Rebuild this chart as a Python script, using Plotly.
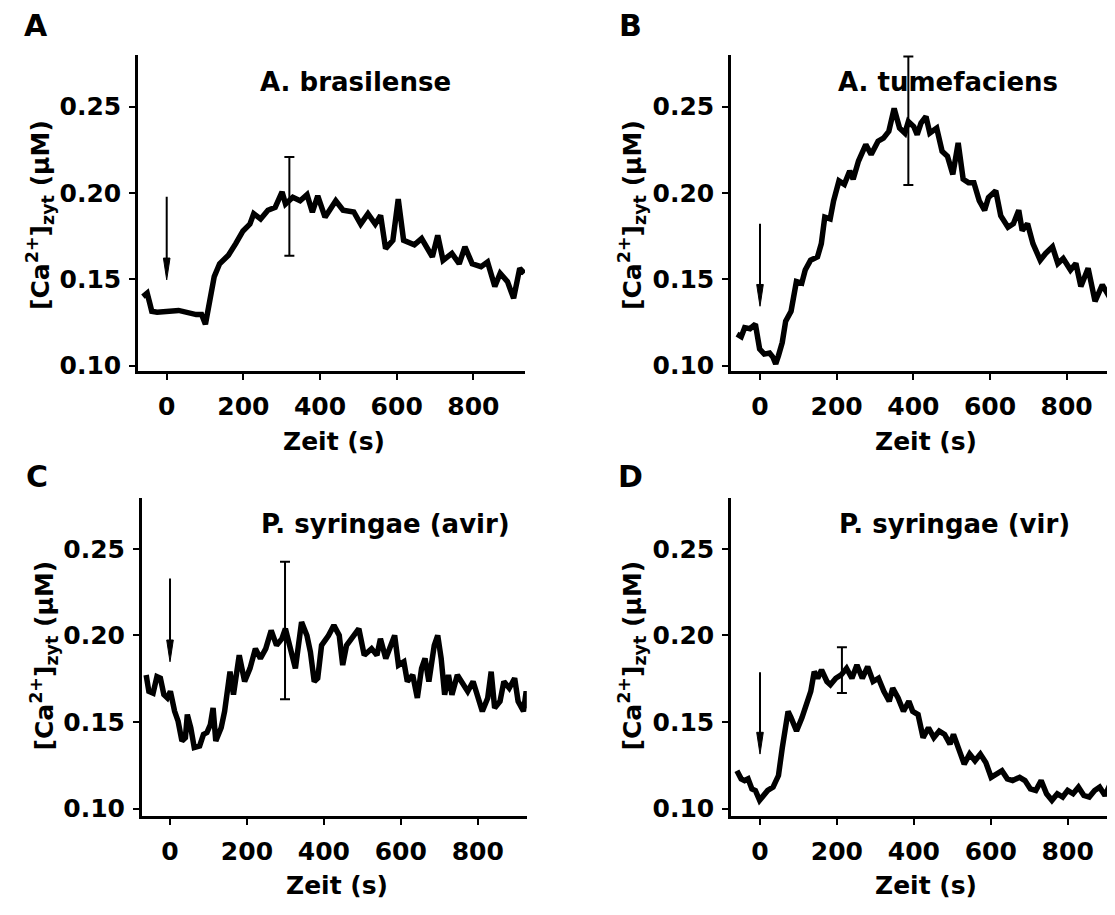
import plotly.graph_objects as go

# The page body has an 8 px margin, so the figure is made 8 px smaller and
# every screen position below is shifted by that offset.
SCREEN_W, SCREEN_H = 1115, 915
OFF = 8
W, H = SCREEN_W - OFF, SCREEN_H - OFF

# ---------------- data ----------------
panel_letters = ["A", "B", "C", "D"]
panel_titles = ["A. brasilense", "A. tumefaciens", "P. syringae (avir)", "P. syringae (vir)"]
x_tick_vals = [0, 200, 400, 600, 800]
y_tick_vals = [0.10, 0.15, 0.20, 0.25]
x_title = "Zeit (s)"
y_title = "[Ca<sup>2+</sup>]<sub>zyt</sub> (µM)"

a_time = [-62, -51, -44, -39, -25, 31, 77, 91, 101, 108, 115, 124, 138, 161, 180, 199, 217, 227,
          245, 264, 283, 301, 310, 329, 348, 366, 380, 394, 413, 441, 460, 488, 506, 525, 544, 558,
          571, 590, 604, 618, 646, 665, 693, 707, 721, 744, 763, 778, 797, 820, 837, 856, 870, 889,
          905, 921, 933]
a_ca = [0.140, 0.142, 0.136, 0.1315, 0.131, 0.132, 0.1296, 0.1296, 0.124, 0.132, 0.144, 0.1516,
        0.159, 0.164, 0.1707, 0.178, 0.182, 0.188, 0.185, 0.190, 0.1917, 0.2006, 0.1936, 0.1975,
        0.1955, 0.199, 0.1889, 0.1984, 0.186, 0.1955, 0.190, 0.189, 0.182, 0.188, 0.182, 0.187,
        0.1678, 0.1726, 0.1965, 0.1726, 0.170, 0.1736, 0.163, 0.1755, 0.161, 0.165, 0.159, 0.1688,
        0.159, 0.1573, 0.160, 0.1459, 0.1535, 0.1487, 0.139, 0.1564, 0.1535]

b_time = [-60, -49, -40, -26, -12, -7, -1, 11, 25, 34, 41, 48, 58, 67, 81, 95, 109, 118, 132, 150,
          160, 169, 183, 192, 206, 220, 234, 243, 257, 276, 290, 308, 322, 336, 350, 364, 378, 387,
          401, 410, 420, 433, 443, 461, 475, 489, 503, 517, 530, 544, 558, 572, 586, 596, 615, 628,
          647, 661, 675, 684, 698, 712, 731, 745, 763, 777, 791, 810, 824, 837, 856, 874, 893, 911,
          923]
b_ca = [0.1182, 0.1168, 0.122, 0.1214, 0.124, 0.119, 0.1096, 0.1067, 0.1073, 0.1048, 0.101, 0.1057,
        0.1134, 0.1258, 0.1315, 0.1487, 0.1478, 0.1554, 0.1611, 0.163, 0.1707, 0.186, 0.185, 0.1955,
        0.207, 0.205, 0.2128, 0.208, 0.2185, 0.228, 0.2223, 0.230, 0.2318, 0.2357, 0.2490, 0.2376,
        0.2347, 0.2414, 0.2385, 0.2338, 0.2405, 0.2443, 0.2347, 0.2376, 0.2242, 0.2213, 0.2108,
        0.229, 0.208, 0.206, 0.206, 0.1955, 0.190, 0.1974, 0.2013, 0.1869, 0.1802, 0.1822, 0.190,
        0.1783, 0.1822, 0.1707, 0.1611, 0.165, 0.1688, 0.1592, 0.1621, 0.1554, 0.1592, 0.1459,
        0.1564, 0.1373, 0.1468, 0.140, 0.1325]

c_time = [-62, -55, -44, -34, -25, -16, -7, 1, 12, 21, 31, 40, 45, 54, 63, 77, 87, 96, 105, 112,
          119, 133, 142, 152, 156, 165, 180, 194, 208, 222, 235, 249, 263, 277, 291, 300, 314, 326,
          342, 356, 365, 375, 384, 394, 412, 426, 440, 449, 459, 477, 491, 505, 524, 538, 547, 561,
          575, 584, 594, 608, 617, 631, 643, 654, 663, 673, 687, 696, 705, 714, 724, 733, 747, 761,
          774, 788, 802, 812, 826, 835, 844, 858, 868, 882, 896, 905, 919, 926, 933]
c_ca = [0.1772, 0.1677, 0.1667, 0.1762, 0.1753, 0.1658, 0.1639, 0.1677, 0.1562, 0.1505, 0.1391,
        0.141, 0.1543, 0.1467, 0.1353, 0.1362, 0.1429, 0.1439, 0.1486, 0.1581, 0.1391, 0.1467,
        0.1562, 0.1734, 0.1791, 0.1658, 0.1886, 0.1734, 0.181, 0.1924, 0.1867, 0.1924, 0.2029,
        0.1943, 0.1981, 0.2039, 0.1924, 0.181, 0.2077, 0.200, 0.1905, 0.1734, 0.1753, 0.1943, 0.200,
        0.2058, 0.200, 0.1829, 0.1943, 0.200, 0.2039, 0.1886, 0.1924, 0.1886, 0.1981, 0.1867,
        0.1962, 0.200, 0.1829, 0.1848, 0.1734, 0.1772, 0.1639, 0.181, 0.1867, 0.1734, 0.1943, 0.200,
        0.1867, 0.1658, 0.1772, 0.1658, 0.1772, 0.1715, 0.1677, 0.1734, 0.162, 0.1562, 0.1639,
        0.1791, 0.1581, 0.162, 0.1734, 0.1696, 0.1753, 0.162, 0.1562, 0.1677, 0.1581]

d_time = [-60, -49, -40, -31, -21, -12, -1, 11, 20, 34, 48, 58, 67, 73, 81, 95, 109, 122, 132, 141,
          150, 160, 174, 183, 197, 211, 225, 239, 252, 266, 280, 294, 308, 322, 336, 345, 359, 373,
          387, 397, 411, 424, 438, 452, 466, 480, 494, 503, 517, 531, 545, 559, 573, 587, 601, 615,
          629, 643, 657, 675, 689, 703, 717, 731, 745, 759, 773, 787, 800, 814, 828, 842, 856, 870,
          883, 897, 911, 923]
d_ca = [0.1219, 0.1172, 0.1162, 0.1172, 0.1114, 0.1105, 0.1048, 0.1076, 0.1105, 0.1124, 0.1191,
        0.1353, 0.1505, 0.1562, 0.1524, 0.1448, 0.1524, 0.162, 0.1677, 0.1791, 0.1753, 0.1801,
        0.1734, 0.1715, 0.1753, 0.1772, 0.181, 0.1753, 0.1829, 0.1753, 0.182, 0.1734, 0.1753,
        0.1677, 0.162, 0.1696, 0.1639, 0.1562, 0.162, 0.1562, 0.1543, 0.141, 0.1467, 0.141, 0.1448,
        0.1429, 0.1372, 0.1429, 0.1353, 0.1257, 0.1315, 0.1276, 0.1315, 0.1267, 0.1181, 0.120,
        0.1219, 0.1172, 0.1162, 0.1181, 0.1162, 0.1114, 0.1105, 0.1162, 0.1086, 0.1048, 0.1086,
        0.1067, 0.1105, 0.1086, 0.1124, 0.1076, 0.1067, 0.1105, 0.1124, 0.1076, 0.1143, 0.1086]

# error bars (time, mean, half-range)
err_time = [320, 387, 299, 213]
err_mean = [0.19225, 0.2418, 0.20285, 0.17995]
err_half = [0.02865, 0.0372, 0.03975, 0.01325]

# stimulus arrows (time, top value, tip value)
arrow_time = [0, 0, 0, 0]
arrow_top = [0.1978, 0.1822, 0.2329, 0.1787]
arrow_tip = [0.1497, 0.1344, 0.1848, 0.1315]

series_time = [a_time, b_time, c_time, d_time]
series_ca = [a_ca, b_ca, c_ca, d_ca]

# ---------------- layout geometry (screen pixels) ----------------
x_dom_px = [(138, 525), (731, 1115), (141.7, 526.8), (731, 1115)]
y_dom_px = [(55, 375), (55, 375), (502.7, 824), (502.7, 824)]
x_rng = [(-74.9, 934.7), (-75.65, 926.1), (-73.6, 927.6), (-75.4, 923.0)]
y_rng = [(0.0967, 0.2802), (0.0967, 0.2802), (0.0958, 0.2795), (0.0958, 0.2795)]

FONT = "DejaVu Sans"


def px_x(v):
    return min(1.0, max(0.0, (v - OFF) / W))


def px_y(v):
    return min(1.0, max(0.0, 1 - (v - OFF) / H))


fig = go.Figure()

for i in range(4):
    n = "" if i == 0 else str(i + 1)
    xa, ya = "x" + n, "y" + n
    fig.add_trace(go.Scatter(x=series_time[i], y=series_ca[i], mode="lines",
                             line=dict(color="black", width=5.5), xaxis=xa, yaxis=ya,
                             showlegend=False, hoverinfo="skip"))
    fig.add_trace(go.Scatter(x=[err_time[i]], y=[err_mean[i]], mode="markers",
                             marker=dict(size=1, color="black"),
                             error_y=dict(type="data", array=[err_half[i]], thickness=2,
                                          width=5, color="black"),
                             xaxis=xa, yaxis=ya, showlegend=False, hoverinfo="skip"))
    # arrow shaft + narrow head, sized in pixels and converted to data units
    xpx = (x_dom_px[i][1] - x_dom_px[i][0]) / (x_rng[i][1] - x_rng[i][0])
    ypx = (y_dom_px[i][1] - y_dom_px[i][0]) / (y_rng[i][1] - y_rng[i][0])
    hw = 3.3 / xpx
    hl = 22 / ypx
    fig.add_trace(go.Scatter(x=[arrow_time[i], arrow_time[i]],
                             y=[arrow_top[i], arrow_tip[i] + hl * 0.5], mode="lines",
                             line=dict(color="black", width=2), xaxis=xa, yaxis=ya,
                             showlegend=False, hoverinfo="skip"))
    fig.add_trace(go.Scatter(x=[arrow_time[i] - hw, arrow_time[i] + hw, arrow_time[i], arrow_time[i] - hw],
                             y=[arrow_tip[i] + hl, arrow_tip[i] + hl, arrow_tip[i], arrow_tip[i] + hl],
                             mode="lines", fill="toself", fillcolor="black",
                             line=dict(color="black", width=1), xaxis=xa, yaxis=ya,
                             showlegend=False, hoverinfo="skip"))

axis_common = dict(showline=True, linecolor="black", linewidth=2.5, ticks="outside",
                   ticklen=6, tickwidth=2, tickcolor="black", showgrid=False, zeroline=False,
                   tickfont=dict(family=FONT, size=25, color="black", weight="bold"))

layout = dict(width=W, height=H, margin=dict(l=0, r=0, t=0, b=0),
              paper_bgcolor="white", plot_bgcolor="white", showlegend=False)

for i in range(4):
    n = "" if i == 0 else str(i + 1)
    layout["xaxis" + n] = dict(axis_common, domain=[px_x(x_dom_px[i][0]), px_x(x_dom_px[i][1])],
                               range=list(x_rng[i]), anchor="y" + n, tickvals=x_tick_vals,
                               ticklabelstandoff=5)
    layout["yaxis" + n] = dict(axis_common, domain=[px_y(y_dom_px[i][1]), px_y(y_dom_px[i][0])],
                               range=list(y_rng[i]), anchor="x" + n, tickvals=y_tick_vals,
                               tickformat=".2f", ticklabelstandoff=3)

fig.update_layout(**layout)

letter_pos = [(36, 26), (630, 26), (37, 481), (630, 481)]
title_pos = [(355, 83), (948, 83), (385, 529), (954, 529)]
xt_pos = [(334, 446), (926, 446), (337, 894), (926, 894)]
yt_pos = [(40, 217), (632, 217), (44, 662), (632, 662)]


def add_text(txt, pos, size, angle=0):
    fig.add_annotation(text=txt, x=px_x(pos[0]), y=px_y(pos[1]), xref="paper", yref="paper",
                       xanchor="center", yanchor="middle", showarrow=False, textangle=angle,
                       font=dict(family=FONT, size=size, color="black", weight="bold"))


for i in range(4):
    add_text(panel_letters[i], letter_pos[i], 30)
    add_text(panel_titles[i], title_pos[i], 26)
    add_text(x_title, xt_pos[i], 25)
    add_text(y_title, yt_pos[i], 25, angle=-90)

fig.write_html("out.html")
